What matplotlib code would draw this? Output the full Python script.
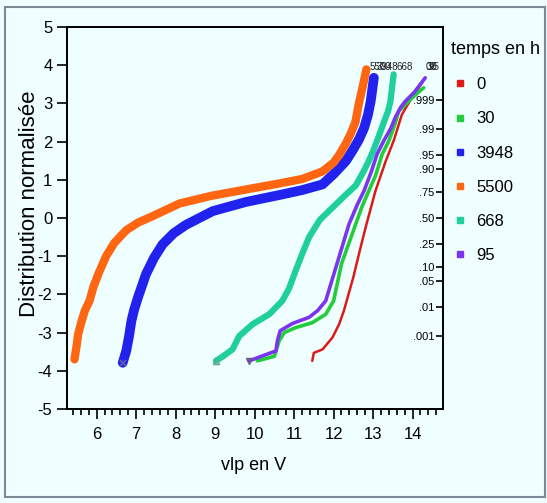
import matplotlib
matplotlib.use("Agg")
import matplotlib.pyplot as plt
from matplotlib.lines import Line2D
from matplotlib.patches import Rectangle
from statistics import NormalDist

plt.rcParams['font.family'] = ['Liberation Sans', 'DejaVu Sans']
plt.rcParams['axes.unicode_minus'] = False

# -----------------------------
# Data (vlp in V, normal score)
# -----------------------------
x_0 = [11.46, 11.50, 11.72, 11.97, 12.14, 12.26, 12.35, 12.50, 12.64, 12.81,
       13.06, 13.32, 13.52, 13.73, 13.98, 14.24]
y_0 = [-3.74, -3.53, -3.44, -3.13, -2.78, -2.43, -2.10, -1.55, -0.95, -0.25,
       0.71, 1.49, 2.02, 2.71, 3.15, 3.54]

x_30 = [10.07, 10.50, 10.62, 10.75, 11.04, 11.46, 11.80, 12.00, 12.20, 12.56,
        12.72, 12.89, 13.06, 13.23, 13.40, 13.55, 13.65, 13.90, 14.10, 14.28]
y_30 = [-3.74, -3.62, -3.22, -3.00, -2.87, -2.74, -2.52, -2.17, -1.20, -0.16,
        0.30, 0.71, 1.10, 1.67, 2.02, 2.45, 2.80, 3.06, 3.25, 3.41]

x_3948 = [6.66, 6.75, 6.82, 6.88, 6.95, 7.04, 7.25, 7.45, 7.67, 7.95, 8.26,
          8.94, 9.78, 10.62, 11.20, 11.72, 12.00, 12.31, 12.47, 12.64, 12.77,
          12.87, 12.94, 13.02]
y_3948 = [-3.79, -3.48, -3.10, -2.70, -2.40, -2.10, -1.47, -1.05, -0.69, -0.40,
          -0.18, 0.18, 0.42, 0.60, 0.73, 0.88, 1.15, 1.49, 1.75, 2.05, 2.35,
          2.70, 3.06, 3.67]

x_5500 = [5.44, 5.50, 5.53, 5.62, 5.70, 5.82, 5.92, 6.05, 6.24, 6.45, 6.75,
          7.05, 7.42, 8.10, 8.90, 9.80, 10.60, 11.20, 11.72, 12.00, 12.14,
          12.31, 12.43, 12.55, 12.64, 12.75, 12.83]
y_5500 = [-3.70, -3.30, -3.05, -2.70, -2.43, -2.17, -1.80, -1.45, -1.00, -0.65,
          -0.32, -0.12, 0.05, 0.38, 0.58, 0.75, 0.90, 1.02, 1.22, 1.45, 1.65,
          1.95, 2.20, 2.50, 3.00, 3.50, 3.89]

x_668 = [9.02, 9.20, 9.44, 9.61, 9.95, 10.37, 10.70, 10.87, 11.05, 11.20,
         11.38, 11.65, 11.97, 12.30, 12.56, 12.75, 12.89, 13.00, 13.10, 13.20,
         13.27, 13.38, 13.44, 13.52]
y_668 = [-3.74, -3.62, -3.44, -3.09, -2.78, -2.52, -2.17, -1.85, -1.35, -0.95,
         -0.50, -0.05, 0.27, 0.60, 0.85, 1.20, 1.49, 1.75, 2.02, 2.30, 2.50,
         2.80, 3.06, 3.76]

x_95 = [9.86, 10.54, 10.58, 10.65, 10.96, 11.38, 11.60, 11.80, 12.10, 12.39,
        12.60, 12.77, 12.95, 13.10, 13.27, 13.45, 13.57, 13.70, 13.82, 14.05,
        14.32]
y_95 = [-3.74, -3.48, -3.20, -2.95, -2.76, -2.60, -2.42, -2.17, -1.15, -0.16,
        0.35, 0.71, 1.20, 1.67, 2.02, 2.35, 2.65, 2.90, 3.06, 3.30, 3.67]

labels = ['0', '30', '3948', '5500', '668', '95']
series_x = [x_0, x_30, x_3948, x_5500, x_668, x_95]
series_y = [y_0, y_30, y_3948, y_5500, y_668, y_95]
colors = ['#dd1a1a', '#22cc3a', '#2222ee', '#ff6612', '#1fcf9c', '#7a35ee']
widths = [1.8, 2.6, 7.0, 6.0, 4.5, 2.6]

prob_ticks = [0.999, 0.99, 0.95, 0.90, 0.75, 0.50, 0.25, 0.10, 0.05, 0.01, 0.001]
prob_labels = ['.999', '.99', '.95', '.90', '.75', '.50', '.25', '.10', '.05', '.01', '.001']

bg = '#effefe'

# -----------------------------
# Plot
# -----------------------------
fig = plt.figure(figsize=(5.47, 5.03), dpi=100, facecolor=bg)
ax = fig.add_axes([67 / 547, 1 - 409 / 503, 376 / 547, 382 / 503], facecolor=bg)

for xs, ys, c, w in zip(series_x, series_y, colors, widths):
    ax.plot(xs, ys, color=c, lw=w, solid_capstyle='round', solid_joinstyle='round')

# first points drawn with their own markers
ax.plot(x_3948[0], y_3948[0], marker='x', color='#6060a0', ms=5, mew=1.2)
ax.plot(x_668[0], y_668[0], marker='^', color='#60a090', ms=4, mfc='none')
ax.plot(x_95[0], y_95[0], marker='v', color='#606070', ms=4, mfc='none')

# point labels at the top end of each curve (they overlap in the original too)
for xs, ys, lab in zip(series_x, series_y, labels):
    ax.text(xs[-1] + 0.08, 3.95, lab, fontsize=7, color='#202020',
            va='center', ha='left', clip_on=True)

ax.set_xlim(5.25, 14.77)
ax.set_ylim(-5, 5)
ax.set_xticks(range(6, 15))
ax.set_xticks([v / 5 for v in range(27, 74)], minor=True)
ax.set_yticks(range(-5, 6))
ax.tick_params(axis='both', which='major', direction='out', length=7, width=1.2,
               labelsize=12)
ax.tick_params(axis='x', which='minor', direction='out', length=4, width=1.2)
ax.tick_params(axis='x', pad=6)
for s in ax.spines.values():
    s.set_linewidth(1.3)

ax.set_xlabel('vlp en V', fontsize=13)
ax.xaxis.set_label_coords(0.497, -0.125)
ax.set_ylabel('Distribution normalisée', fontsize=16)
ax.yaxis.set_label_coords(-0.072, 0.537)

# probability scale on the right spine
ax2 = ax.twinx()
ax2.set_ylim(-5, 5)
ax2.set_yticks([NormalDist().inv_cdf(p) for p in prob_ticks])
ax2.set_yticklabels(prob_labels)
ax2.tick_params(axis='y', direction='in', length=5, width=1.2, pad=-6, labelsize=8)
for lab in ax2.get_yticklabels():
    lab.set_horizontalalignment('right')
for s in ax2.spines.values():
    s.set_linewidth(1.3)

# legend
handles = [Line2D([], [], marker='s', ls='none', color=c, ms=4) for c in colors]
leg = ax.legend(handles, labels, title='temps en h', loc='upper left',
                bbox_to_anchor=(442 / 547, 1 - 32 / 503), bbox_transform=fig.transFigure,
                frameon=False, fontsize=12, alignment='left',
                title_fontproperties={'size': 13, 'weight': 'normal'},
                handlelength=1.0, handletextpad=0.5, labelspacing=1.15,
                borderpad=0.55, borderaxespad=0)

# outer frame
fig.patches.append(Rectangle((5 / 547, 6 / 503), 540 / 547, 490 / 503,
                             transform=fig.transFigure, fill=False,
                             edgecolor='#7c8a98', lw=1.5))

plt.savefig('out.png', dpi=100, facecolor=bg)
